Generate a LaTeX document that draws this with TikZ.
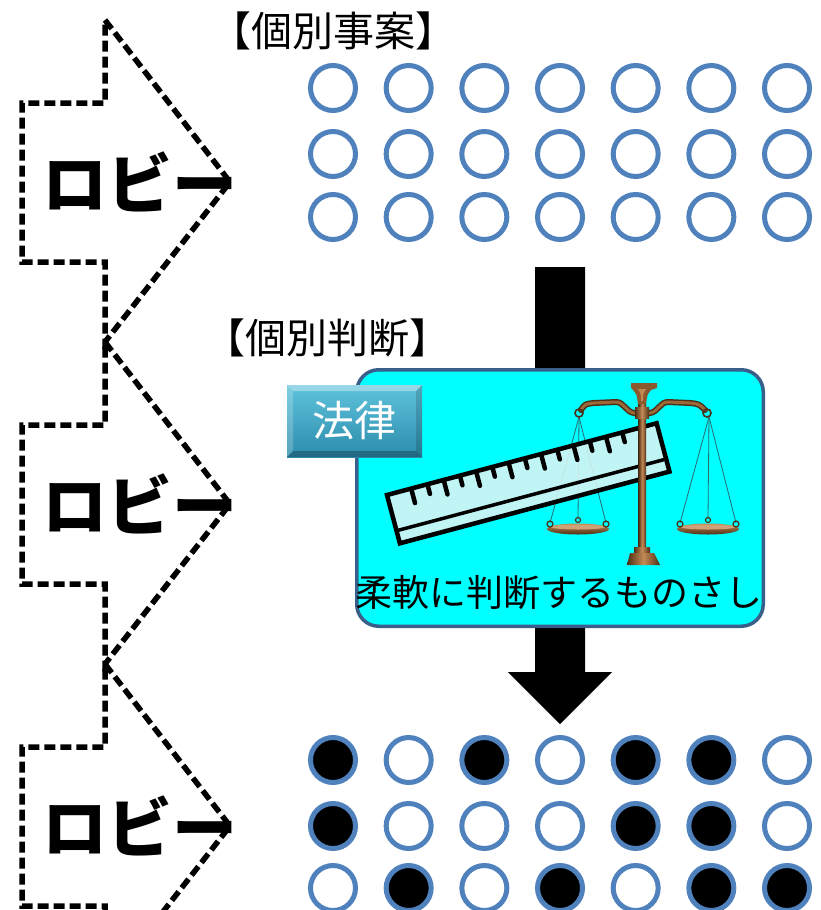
\documentclass[tikz,border=0pt]{standalone}
\usepackage{fontspec}
\newfontfamily\jp{Noto Sans CJK JP}
\usetikzlibrary{calc}

\definecolor{circblue}{HTML}{4F81BD}
\definecolor{boxcyan}{HTML}{00FFFF}
\definecolor{boxedge}{HTML}{3A5F8B}
\definecolor{lawtop}{HTML}{5FC3DC}
\definecolor{lawbot}{HTML}{2C8CAC}
\definecolor{rulerfill}{HTML}{D6F3F3}
\definecolor{brassdark}{HTML}{4E2F16}
\definecolor{brass}{HTML}{8A5A2E}
\definecolor{brasslight}{HTML}{C38A55}
\definecolor{cord}{HTML}{2C6A70}

\begin{document}
\begin{tikzpicture}[x=1pt,y=-1pt,
  lobbyarrow/.style={draw=black, line width=5.5pt, dash pattern=on 11pt off 5pt, line join=miter},
  lobbytext/.style={font={\jp\bfseries\fontsize{65pt}{65pt}\selectfont}, inner sep=0pt},
  headtext/.style={font={\jp\fontsize{41pt}{41pt}\selectfont}, inner sep=0pt},
  dot/.style={circle, draw=circblue, line width=5pt, minimum size=45pt, inner sep=0pt},
  result0/.style={dot, fill=white},
  result1/.style={dot, fill=black},
  cord/.style={draw=cord, line width=0.8pt},
  tick/.style={line width=4.5pt, line cap=round}
]
\useasboundingbox (0,0) rectangle (821,910);
\clip (0,0) rectangle (821,910);

% dashed lobbying arrows with their labels
\foreach \k in {0,1,2}{
  \pgfmathsetmacro\o{322*\k}
  \draw[lobbyarrow] (105,20+\o) -- (230,182+\o) -- (105,342+\o) -- (105,262+\o)
        -- (22,262+\o) -- (22,103+\o) -- (105,103+\o) -- cycle;
  \node[lobbytext] (lobby\k) at (140,182+\o) {ロビー};
}

% headings
\node[headtext] (cases) at (333,31) {【個別事案】};
\node[headtext] (rulings) at (327,338) {【個別判断】};

% individual cases
\foreach \y [count=\r] in {88,154,217}
  \foreach \c in {1,...,7}{
    \pgfmathsetmacro\x{333+75.67*(\c-1)}
    \node[result0] (case-\r-\c) at (\x,\y) {};
  }

% flow arrow from cases to rulings
\coordinate (flowtop) at (560,267);
\coordinate (flowtip) at (560,724);
\fill[black] ($(flowtop)+(-25,0)$) -- ($(flowtop)+(25,0)$) -- ($(flowtip)+(25,-52)$)
  -- ($(flowtip)+(52,-52)$) -- (flowtip) -- ($(flowtip)+(-52,-52)$)
  -- ($(flowtip)+(-25,-52)$) -- cycle;

% judgement panel
\node[draw=boxedge, line width=3.5pt, fill=boxcyan, rounded corners=22pt,
      minimum width=406.5pt, minimum height=256.5pt, inner sep=0pt] (judge) at (560,498) {};

% law tag with bevel
\shade[top color=lawtop, bottom color=lawbot] (287,385) rectangle (422,457);
\fill[white, opacity=0.35] (287,385) -- (422,385) -- (416,391) -- (293,391) -- cycle;
\fill[white, opacity=0.2] (287,385) -- (293,391) -- (293,451) -- (287,457) -- cycle;
\fill[black, opacity=0.25] (287,457) -- (422,457) -- (416,451) -- (293,451) -- cycle;
\fill[black, opacity=0.15] (422,385) -- (416,391) -- (416,451) -- (422,457) -- cycle;
\node[font={\jp\fontsize{42pt}{42pt}\selectfont}, text=white, inner sep=0pt] (law) at (354.5,421) {法律};

% balance: cords and pans
\foreach \cx in {578,708}{
  \draw[cord] (\cx+1,417) -- (\cx-28,523);
  \draw[cord] (\cx+1,417) -- (\cx,518);
  \draw[cord] (\cx+1,417) -- (\cx+28,523);
  \shade[top color=brasslight, bottom color=brassdark] (\cx,529) ellipse (31pt and 5.5pt);
  \fill[brasslight!80!white] (\cx,527) ellipse (27pt and 2.5pt);
  \draw[brassdark, line width=1.2pt] (\cx-28,524) circle (3pt);
  \draw[brassdark, line width=1.2pt] (\cx+28,524) circle (3pt);
  \draw[brassdark, line width=1.2pt] (\cx,520) circle (2.5pt);
}
% balance: beam
\draw[brassdark, line width=6pt, line cap=round]
  (581,410) .. controls (585,404) .. (594,403) -- (616,402)
  .. controls (624,402) and (626,412) .. (634,413) -- (650,413)
  .. controls (658,412) and (660,402) .. (668,402) -- (690,403)
  .. controls (699,404) .. (705,410);
\draw[brass!70!brasslight, line width=3pt, line cap=round]
  (581,410) .. controls (585,404) .. (594,403) -- (616,402)
  .. controls (624,402) and (626,412) .. (634,413) -- (650,413)
  .. controls (658,412) and (660,402) .. (668,402) -- (690,403)
  .. controls (699,404) .. (705,410);
\draw[brassdark, line width=1.6pt] (579,413) circle (4pt);
\draw[brassdark, line width=1.6pt] (707,413) circle (4pt);
% balance: top ornament
\fill[brass] (631,383) -- (657,383) -- (657,388) -- (651,390)
  .. controls (647,395) .. (646,406) -- (638,406) .. controls (637,395) .. (633,390)
  -- (631,388) -- cycle;
\fill[brasslight] (638,389) -- (646,389) .. controls (643,394) .. (643,401)
  -- (641,401) .. controls (641,394) .. (638,389) -- cycle;

% ruler lying across the balance
\begin{scope}[shift={(387,495)}, rotate=14.9]
  \fill[rulerfill, opacity=0.9] (0,0) rectangle (279,50);
  \draw[black, line width=4.5pt] (0,0) rectangle (279,50);
  \draw[black, line width=3.5pt] (2,37) -- (277,37);
  \foreach \t in {0,...,13}{
    \pgfmathsetmacro\tx{25+16.8*\t}
    \pgfmathsetmacro\tl{ifthenelse(mod(\t,2)==0,15,10)}
    \draw[tick] (\tx,2) -- (\tx,\tl);
  }
\end{scope}

% balance: pillar and foot drawn over the ruler
\shade[left color=brassdark, right color=brassdark, middle color=brasslight]
  (638.5,404) rectangle (646,552);
\shade[left color=brassdark, right color=brassdark, middle color=brasslight]
  (635,407) rectangle (649,418);
\shade[left color=brassdark, right color=brassdark, middle color=brasslight]
  (634,547) rectangle (650,553);
\shade[left color=brassdark, right color=brassdark, middle color=brasslight]
  (630,553) -- (654,553) -- (660,565) -- (627,565) -- cycle;

% caption of the panel
\node[font={\jp\fontsize{37pt}{37pt}\selectfont}, inner sep=0pt] (measure) at (559,593) {柔軟に判断するものさし};

% individual rulings
\foreach \y/\row [count=\r] in {760/{1,0,1,0,1,1,0}, 826/{1,0,0,0,1,1,0}, 888/{0,1,0,1,0,1,1}}
  \foreach \f [count=\c] in \row {
    \pgfmathsetmacro\x{333+75.67*(\c-1)}
    \node[result\f] (ruling-\r-\c) at (\x,\y) {};
  }
\end{tikzpicture}
\end{document}
